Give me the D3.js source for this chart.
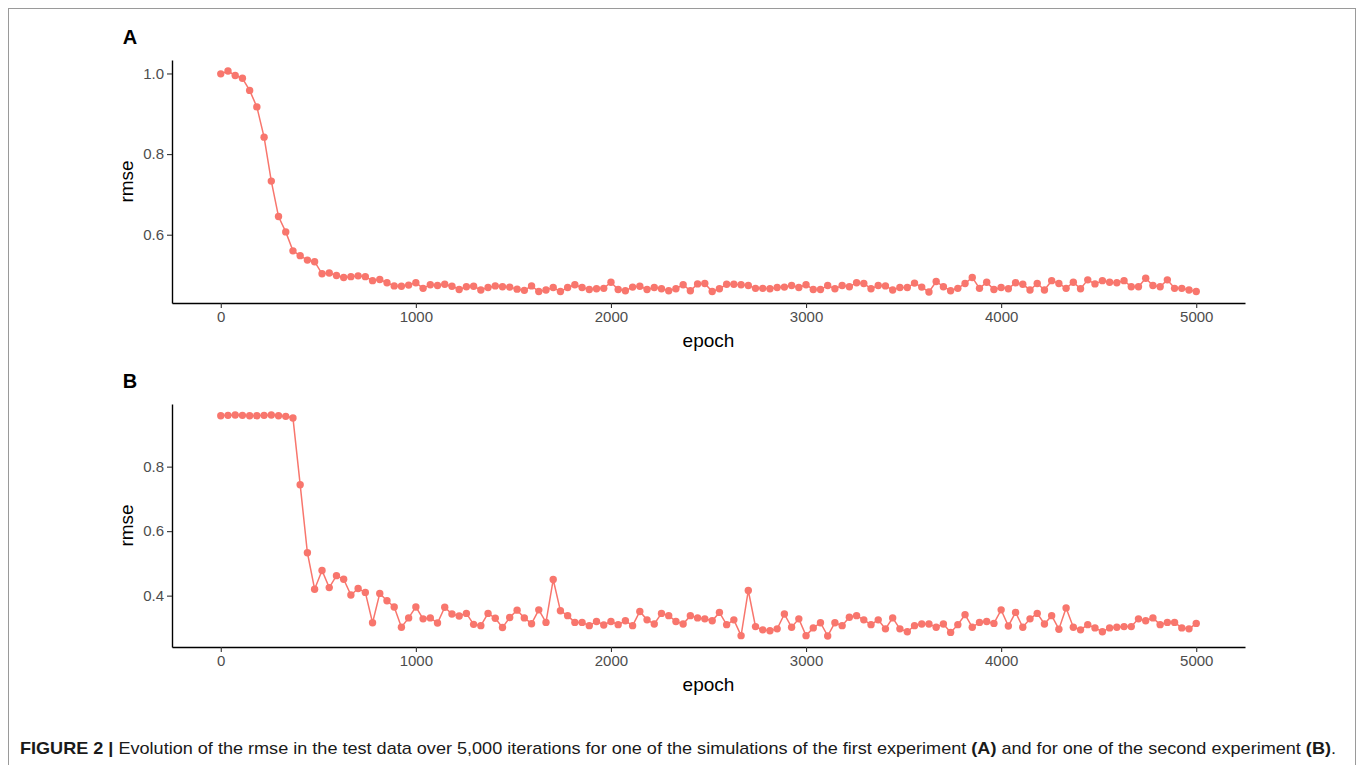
<!DOCTYPE html>
<html>
<head>
<meta charset="utf-8">
<script src="https://cdn.jsdelivr.net/npm/d3@7"></script>
<style>
  html, body { margin: 0; padding: 0; background: #fff; }
  svg { display: block; }
  text { font-family: "Liberation Sans", Arial, Helvetica, sans-serif; }
</style>
</head>
<body>
<svg id="chart" width="1360" height="765"></svg>
<script>
// ---------------- data ----------------
const epochs = [
  0,37,74,111,148,185,222,259,296,333,370,407,444,481,519,556,593,630,667,704,741,778,815,852,889,926,963,
  1000,1037,1074,1111,1148,1185,1222,1259,1296,1333,1370,1407,1444,1481,1519,1556,1593,1630,1667,1704,1741,1778,1815,1852,1889,1926,1963,
  2000,2037,2074,2111,2148,2185,2222,2259,2296,2333,2370,2407,2444,2481,2519,2556,2593,2630,2667,2704,2741,2778,2815,2852,2889,2926,2963,
  3000,3037,3074,3111,3148,3185,3222,3259,3296,3333,3370,3407,3444,3481,3519,3556,3593,3630,3667,3704,3741,3778,3815,3852,3889,3926,3963,
  4000,4037,4074,4111,4148,4185,4222,4259,4296,4333,4370,4407,4444,4481,4519,4556,4593,4630,4667,4704,4741,4778,4815,4852,4889,4926,4963,
  5000
];

const rmseA = [
  0.999,1.006,0.995,0.988,0.958,0.917,0.842,0.733,0.645,0.607,
  0.560,0.548,0.537,0.533,0.503,0.505,0.499,0.494,0.496,0.498,
  0.496,0.486,0.489,0.481,0.473,0.472,0.475,0.481,0.467,0.476,
  0.474,0.477,0.472,0.464,0.471,0.472,0.463,0.469,0.473,0.471,
  0.470,0.465,0.462,0.473,0.459,0.463,0.469,0.459,0.469,0.476,
  0.469,0.464,0.466,0.467,0.482,0.464,0.461,0.470,0.472,0.464,
  0.469,0.466,0.461,0.466,0.476,0.461,0.478,0.479,0.459,0.466,
  0.477,0.477,0.476,0.474,0.467,0.467,0.466,0.469,0.470,0.474,
  0.469,0.476,0.464,0.464,0.474,0.466,0.474,0.471,0.481,0.479,
  0.466,0.474,0.473,0.463,0.469,0.469,0.480,0.470,0.458,0.484,
  0.471,0.461,0.467,0.479,0.494,0.467,0.482,0.464,0.469,0.466,
  0.481,0.477,0.463,0.479,0.463,0.486,0.479,0.467,0.482,0.466,
  0.488,0.478,0.486,0.482,0.481,0.486,0.471,0.471,0.492,0.474,
  0.471,0.488,0.467,0.467,0.463,0.459
];

const rmseB = [
  0.958,0.959,0.960,0.959,0.958,0.958,0.959,0.960,0.958,0.956,
  0.951,0.744,0.533,0.420,0.478,0.425,0.462,0.451,0.402,0.422,
  0.410,0.316,0.407,0.384,0.365,0.302,0.331,0.365,0.328,0.331,
  0.315,0.364,0.343,0.337,0.345,0.311,0.307,0.345,0.330,0.301,
  0.332,0.355,0.331,0.313,0.356,0.317,0.450,0.353,0.338,0.317,
  0.317,0.307,0.320,0.309,0.320,0.310,0.322,0.307,0.351,0.325,
  0.312,0.345,0.338,0.320,0.312,0.338,0.331,0.328,0.322,0.348,
  0.310,0.325,0.276,0.416,0.304,0.294,0.291,0.297,0.343,0.302,
  0.328,0.276,0.300,0.316,0.275,0.316,0.307,0.333,0.338,0.325,
  0.310,0.325,0.297,0.331,0.297,0.288,0.307,0.312,0.312,0.302,
  0.312,0.286,0.310,0.341,0.302,0.317,0.320,0.314,0.356,0.306,
  0.348,0.302,0.328,0.345,0.312,0.338,0.296,0.362,0.302,0.294,
  0.310,0.300,0.288,0.300,0.302,0.304,0.304,0.328,0.322,0.331,
  0.310,0.317,0.317,0.300,0.297,0.314
];

const xTicks = [0, 1000, 2000, 3000, 4000, 5000];
const yTicksA = [0.6, 0.8, 1.0];
const yTicksB = [0.4, 0.6, 0.8];
const panelLabels = ["A", "B"];
const xTitle = "epoch";
const yTitle = "rmse";

// ---------------- drawing ----------------
const svg = d3.select("#chart");
const color = "#F8766D";

// figure frame
svg.append("rect")
  .attr("x", 8.5).attr("y", 8.5)
  .attr("width", 1347).attr("height", 800)
  .attr("fill", "none").attr("stroke", "#9a9a9a").attr("stroke-width", 1);

function padded(vals, f) {
  const [lo, hi] = d3.extent(vals);
  const p = (hi - lo) * f;
  return [lo - p, hi + p];
}

function drawPanel(values, yTicks, label, top, bottom) {
  const left = 172, right = 1245;
  const x = d3.scaleLinear().domain(padded(epochs, 0.05)).range([left, right]);
  const y = d3.scaleLinear().domain(padded(values, 0.05)).range([bottom, top]);

  const g = svg.append("g");

  const xa = g.append("g")
    .attr("transform", `translate(0,${bottom})`)
    .call(d3.axisBottom(x).tickValues(xTicks).tickFormat(d3.format("d"))
      .tickSize(5).tickSizeOuter(0).tickPadding(3));
  const ya = g.append("g")
    .attr("transform", `translate(${left},0)`)
    .call(d3.axisLeft(y).tickValues(yTicks).tickFormat(d3.format(".1f"))
      .tickSize(5).tickSizeOuter(0).tickPadding(3));

  [xa, ya].forEach(a => {
    a.select(".domain").attr("stroke", "#000").attr("stroke-width", 1.4);
    a.selectAll(".tick line").attr("stroke", "#333").attr("stroke-width", 1.1);
    a.selectAll(".tick text")
      .attr("fill", "#4d4d4d")
      .style("font-size", "15px")
      .style("font-family", "'Liberation Sans', Arial, sans-serif");
  });

  const data = epochs.map((e, i) => ({ e, v: values[i] }));
  const line = d3.line().x(d => x(d.e)).y(d => y(d.v));
  g.append("path").datum(data)
    .attr("d", line)
    .attr("fill", "none")
    .attr("stroke", color)
    .attr("stroke-width", 1.5);
  g.selectAll("circle.pt").data(data).join("circle")
    .attr("class", "pt")
    .attr("cx", d => x(d.e))
    .attr("cy", d => y(d.v))
    .attr("r", 3.7)
    .attr("fill", color);

  g.append("text")
    .attr("x", (left + right) / 2)
    .attr("y", bottom + 44)
    .attr("text-anchor", "middle")
    .style("font-size", "19px")
    .attr("fill", "#000")
    .text(xTitle);
  g.append("text")
    .attr("transform", `translate(133,${(top + bottom) / 2}) rotate(-90)`)
    .attr("text-anchor", "middle")
    .style("font-size", "19px")
    .attr("fill", "#000")
    .text(yTitle);
  g.append("text")
    .attr("x", 130)
    .attr("y", top - 16)
    .attr("text-anchor", "middle")
    .style("font-size", "20px")
    .style("font-weight", "bold")
    .attr("fill", "#000")
    .text(label);
}

drawPanel(rmseA, yTicksA, panelLabels[0], 60, 303);
drawPanel(rmseB, yTicksB, panelLabels[1], 404, 647);

// caption
const cap = svg.append("text")
  .attr("x", 20).attr("y", 754)
  .style("font-size", "17px")
  .attr("fill", "#1a1a1a")
  .attr("textLength", 1316)
  .attr("lengthAdjust", "spacingAndGlyphs");
cap.append("tspan").style("font-weight", "bold").text("FIGURE 2 | ");
cap.append("tspan").text("Evolution of the rmse in the test data over 5,000 iterations for one of the simulations of the first experiment ");
cap.append("tspan").style("font-weight", "bold").text("(A)");
cap.append("tspan").text(" and for one of the second experiment ");
cap.append("tspan").style("font-weight", "bold").text("(B)");
cap.append("tspan").text(".");
</script>
</body>
</html>
